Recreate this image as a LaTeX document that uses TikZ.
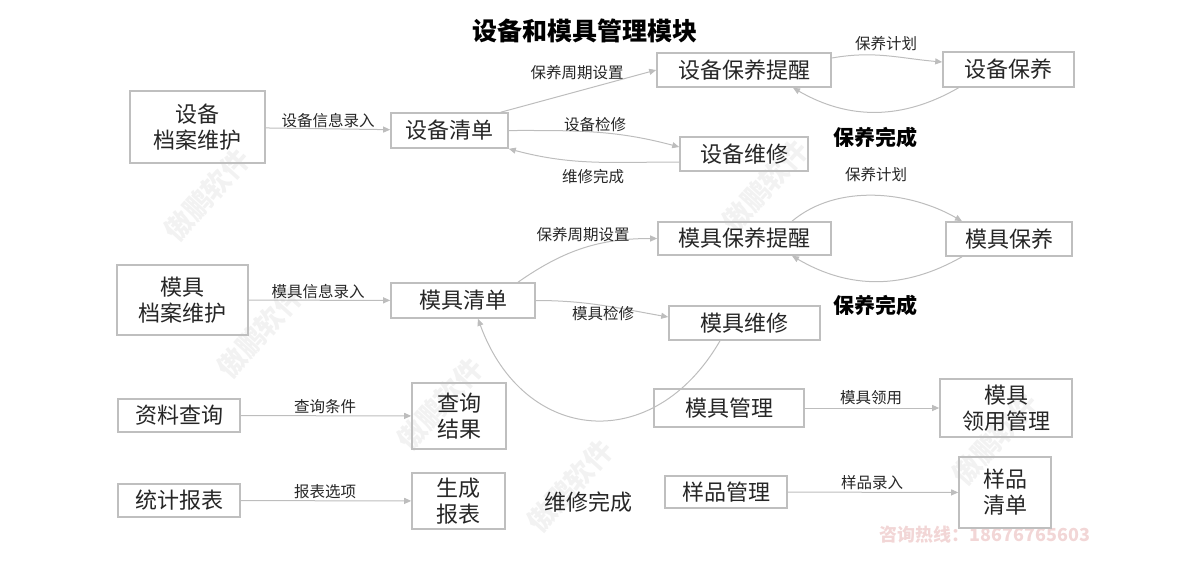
\documentclass[tikz,border=0pt]{standalone}
\usepackage{fontspec}
\setmainfont{Noto Sans CJK SC}
\usetikzlibrary{arrows.meta}
\definecolor{boxgray}{HTML}{BFBFBF}
\definecolor{linegray}{HTML}{BDBDBD}
\definecolor{txt}{HTML}{262626}
\definecolor{markpink}{HTML}{F2D6D6}

\begin{document}
\begin{tikzpicture}[x=1pt, y=1pt,
    box/.style={draw=boxgray, line width=1.6pt, inner sep=0pt, align=center, text=txt,
        font=\fontsize{22}{26}\selectfont},
    lbl/.style={text=txt, inner sep=0pt, font=\fontsize{15.5}{18}\selectfont},
    done/.style={text=black, inner sep=0pt, font=\fontsize{21}{24}\selectfont\bfseries},
    wmark/.style={rotate=48, text=black!5, font=\fontsize{28}{30}\selectfont\bfseries},
    flow/.style={draw=linegray, line width=1pt, -{Triangle[length=7pt, width=6pt]}},
    ]
    \useasboundingbox (0,0) rectangle (1200,-560);

    % Watermarks
    \foreach \wx/\wy in {207/195, 260/332, 440/404, 570/486, 765/186, 995/439}
        \node[wmark] (wm\wx) at (\wx,-\wy) {傲鹏软件};
    \node[text=markpink, font=\fontsize{18}{20}\selectfont\bfseries] (hotline) at (985,-535) {咨询热线：18676765603};

    % Title
    \node[font=\fontsize{25}{28}\selectfont\bfseries, text=black] (title) at (585,-31) {设备和模具管理模块};

    % Equipment
    \node[box, minimum width=135pt, minimum height=72pt] (dfile) at (197.5,-127) {设备\\档案维护};
    \node[box, minimum width=117pt, minimum height=35pt] (dlist) at (449.5,-130.5) {设备清单};
    \node[box, minimum width=174pt, minimum height=34pt] (dremind) at (744,-70) {设备保养提醒};
    \node[box, minimum width=131pt, minimum height=35pt] (dmaint) at (1008.5,-69.5) {设备保养};
    \node[box, minimum width=128pt, minimum height=34pt] (drepair) at (744,-154) {设备维修};

    \draw[flow] (dfile) -- (dlist);
    \draw[flow] ([xshift=-8pt]dlist.north east) -- (dremind.west);
    \draw[flow] (dlist.east) to[out=0, in=165] ([yshift=7pt]drepair.west);
    \draw[flow] ([yshift=-8pt]drepair.west) to[out=180, in=-15] (dlist.south east);
    \draw[flow] ([yshift=12pt]dremind.east) to[out=10, in=175] ([yshift=7.5pt]dmaint.west);
    \draw[flow] ([xshift=-50pt]dmaint.south) to[bend left=30] ([xshift=49pt]dremind.south);

    \node[lbl] (dl1) at (328,-121) {设备信息录入};
    \node[lbl] (dl2) at (577,-73) {保养周期设置};
    \node[lbl] (dl3) at (595,-125) {设备检修};
    \node[lbl] (dl4) at (593,-177) {维修完成};
    \node[lbl] (dl5) at (886,-44) {保养计划};
    \node[done] (ddone) at (875,-137) {保养完成};

    % Moulds
    \node[box, minimum width=131pt, minimum height=70pt] (mfile) at (182.5,-300) {模具\\档案维护};
    \node[box, minimum width=144pt, minimum height=35pt] (mlist) at (463,-300.5) {模具清单};
    \node[box, minimum width=173pt, minimum height=33pt] (mremind) at (744.5,-238.5) {模具保养提醒};
    \node[box, minimum width=126pt, minimum height=34pt] (mmaint) at (1009,-239) {模具保养};
    \node[box, minimum width=151pt, minimum height=34pt] (mrepair) at (744.5,-323) {模具维修};

    \draw[flow] (mfile) -- (mlist);
    \draw[flow] ([xshift=55pt]mlist.north) to[out=35, in=180] (mremind.west);
    \draw[flow] (mlist.east) to[out=0, in=170] ([yshift=6pt]mrepair.west);
    \draw[flow] ([xshift=47.5pt]mremind.north) to[out=40, in=150, looseness=0.9] ([xshift=-47pt]mmaint.north);
    \draw[flow] ([xshift=-47pt]mmaint.south) to[bend left=30] ([xshift=47.5pt]mremind.south);
    \draw[flow] ([xshift=-24.5pt]mrepair.south) to[out=-120, in=-70, looseness=1.4] ([xshift=15pt]mlist.south);

    \node[lbl] (ml1) at (318,-292) {模具信息录入};
    \node[lbl] (ml2) at (583,-235) {保养周期设置};
    \node[lbl] (ml3) at (603,-314) {模具检修};
    \node[lbl] (ml5) at (876,-175) {保养计划};
    \node[done] (mdone) at (875,-305) {保养完成};

    % Query, reports, mould use, samples
    \node[box, minimum width=122pt, minimum height=33pt] (query) at (179,-415.5) {资料查询};
    \node[box, minimum width=94pt, minimum height=66pt] (qresult) at (459,-416) {查询\\结果};
    \node[box, minimum width=122pt, minimum height=33pt] (report) at (179,-500.5) {统计报表};
    \node[box, minimum width=93pt, minimum height=56pt] (rresult) at (458.5,-501) {生成\\报表};
    \node[box, minimum width=150pt, minimum height=38pt] (mmanage) at (729,-408) {模具管理};
    \node[box, minimum width=132pt, minimum height=58pt] (muse) at (1006,-408) {模具\\领用管理};
    \node[box, minimum width=122pt, minimum height=32pt] (smanage) at (726,-492) {样品管理};
    \node[box, minimum width=92pt, minimum height=71pt] (slist) at (1005,-492.5) {样品\\清单};

    \draw[flow] (query) -- (qresult);
    \draw[flow] (report) -- (rresult);
    \draw[flow] (mmanage) -- (muse);
    \draw[flow] (smanage) -- (slist);

    \node[lbl] (ql) at (325,-407) {查询条件};
    \node[lbl] (rl) at (325,-492) {报表选项};
    \node[lbl] (ul) at (871,-398) {模具领用};
    \node[lbl] (sl) at (872,-483) {样品录入};
    \node[text=txt, font=\fontsize{22}{26}\selectfont] (rdone) at (588,-502) {维修完成};
\end{tikzpicture}
\end{document}
